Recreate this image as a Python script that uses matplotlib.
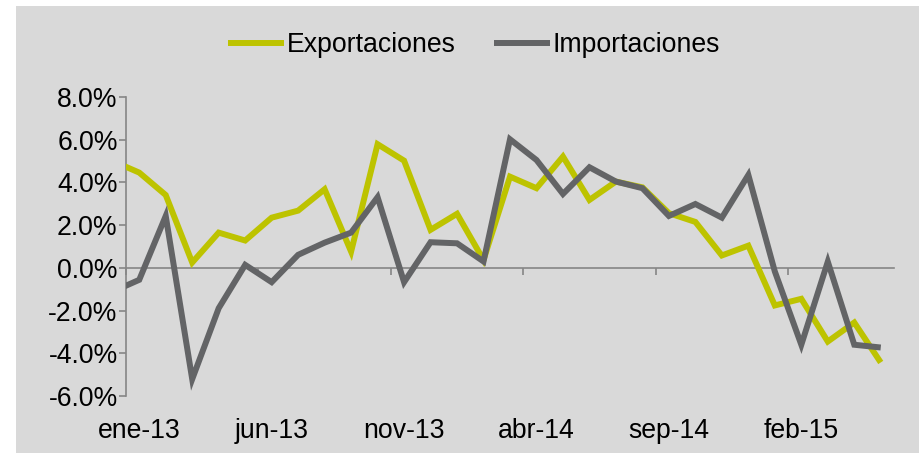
import matplotlib
matplotlib.use("Agg")
import matplotlib.pyplot as plt
from matplotlib.patches import Rectangle
from matplotlib.ticker import FuncFormatter, FixedLocator
import numpy as np

plt.rcParams['font.family'] = ['Liberation Sans', 'DejaVu Sans']

meses = ['dic-12',
         'ene-13', 'feb-13', 'mar-13', 'abr-13', 'may-13', 'jun-13', 'jul-13', 'ago-13',
         'sep-13', 'oct-13', 'nov-13', 'dic-13',
         'ene-14', 'feb-14', 'mar-14', 'abr-14', 'may-14', 'jun-14', 'jul-14', 'ago-14',
         'sep-14', 'oct-14', 'nov-14', 'dic-14',
         'ene-15', 'feb-15', 'mar-15', 'abr-15', 'may-15']
exportaciones = [5.00, 4.46, 3.41, 0.25, 1.65, 1.28, 2.35, 2.68, 3.68, 0.76, 5.79, 5.02,
                 1.78, 2.53, 0.37, 4.27, 3.73, 5.21, 3.18, 4.04, 3.77, 2.56, 2.15, 0.58,
                 1.04, -1.76, -1.45, -3.45, -2.56, -4.43]
importaciones = [-1.11, -0.56, 2.43, -5.21, -1.89, 0.14, -0.67, 0.61, 1.18, 1.65, 3.31, -0.67,
                 1.20, 1.15, 0.30, 6.02, 5.05, 3.46, 4.71, 4.04, 3.73, 2.43, 2.99, 2.35,
                 4.35, -0.17, -3.60, 0.29, -3.60, -3.73]
etiquetas = ['ene-13', 'jun-13', 'nov-13', 'abr-14', 'sep-14', 'feb-15']

FS = 19.2
W, H = 919, 453
fig = plt.figure(figsize=(W / 100, H / 100), dpi=100, facecolor='white')
fig.patches.append(Rectangle((16 / W, 0), 1 - 16 / W, 1 - 6 / H, transform=fig.transFigure,
                             facecolor='#D9D9D9', edgecolor='none', zorder=-10))

ax = fig.add_axes([126 / W, 1 - 396 / H, (894 - 126) / W, (396 - 97) / H])
ax.set_facecolor('none')
ax.set_zorder(2)

x = np.arange(len(meses)) - 1  # ene-13 at 0
ax.plot(x, exportaciones, color='#BDC300', lw=4.3, label='Exportaciones',
        solid_joinstyle='miter', solid_capstyle='butt', zorder=3)
ax.plot(x, importaciones, color='#636466', lw=4.3, label='Importaciones',
        solid_joinstyle='miter', solid_capstyle='butt', zorder=4)

n = len(meses) - 1
ax.set_xlim(-0.5, n - 0.5)
ax.set_ylim(-6, 8)

axis_col = '#868686'
for s in ['top', 'right']:
    ax.spines[s].set_visible(False)
ax.spines['left'].set_color(axis_col)
ax.spines['left'].set_linewidth(1.2)
ax.spines['bottom'].set_position(('data', 0))
ax.spines['bottom'].set_color(axis_col)
ax.spines['bottom'].set_linewidth(1.2)

ax.set_yticks(np.arange(-6, 8.1, 2))
ax.yaxis.set_major_formatter(FuncFormatter(lambda v, p: f'{v:.1f}%'))
ax.tick_params(axis='y', length=5, width=1.2, color=axis_col, pad=1, labelsize=FS,
               labelcolor='black')

ax.xaxis.set_major_locator(FixedLocator(np.arange(-0.5, n, 5)))
ax.tick_params(axis='x', length=5, width=1.2, color=axis_col, labelbottom=False)

pos = [meses.index(e) - 1 for e in etiquetas]
sec = ax.secondary_xaxis('bottom')
sec.set_xticks(pos)
sec.set_xticklabels(etiquetas)
sec.spines['bottom'].set_visible(False)
sec.tick_params(axis='x', length=0, pad=16, labelsize=FS, labelcolor='black')

fig.legend(loc='center', bbox_to_anchor=(474 / W, 1 - 45 / H), ncol=2, frameon=False,
           fontsize=FS, handlelength=2.1, handletextpad=0.11, columnspacing=1.42)

fig.savefig('out.png', dpi=100, facecolor='white')
